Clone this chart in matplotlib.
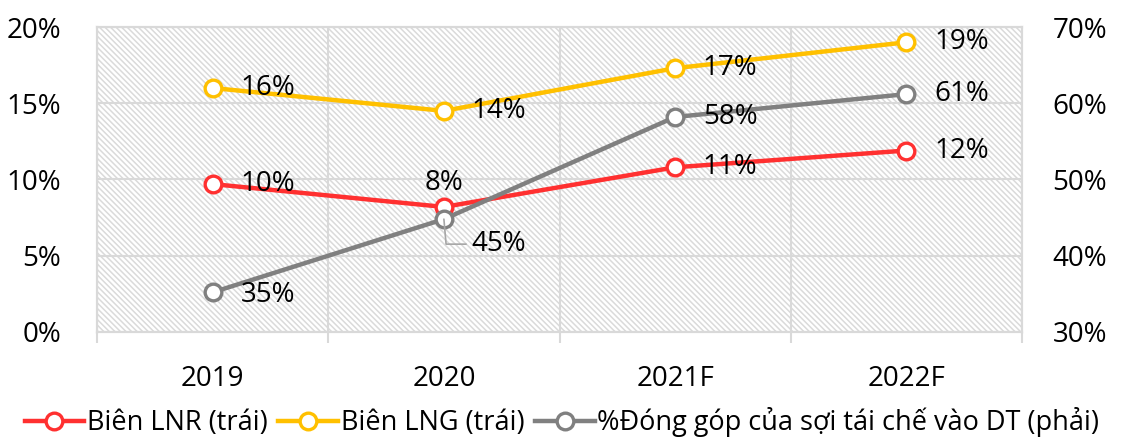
import matplotlib.pyplot as plt
from matplotlib.patches import Rectangle
from matplotlib.ticker import FixedLocator, PercentFormatter

plt.rcParams['font.family'] = ['Open Sans', 'DejaVu Sans']
plt.rcParams['hatch.linewidth'] = 1.1
plt.rcParams['hatch.color'] = '#dadada'

years = ['2019', '2020', '2021F', '2022F']
lnr = [9.7, 8.2, 10.8, 11.9]        # Biên LNR (trái)
lng = [16.0, 14.5, 17.3, 19.0]      # Biên LNG (trái)
recycled = [35.2, 44.8, 58.2, 61.2]  # % đóng góp (phải)

lnr_labels = ['10%', '8%', '11%', '12%']
lng_labels = ['16%', '14%', '17%', '19%']
rec_labels = ['35%', '45%', '58%', '61%']

c_red = '#ff3030'
c_yel = '#ffc000'
c_gray = '#808080'
grid_c = '#d9d9d9'

fig = plt.figure(figsize=(11.24, 4.4), dpi=100)
ax = fig.add_axes([0.0863, 0.2455, 0.823, 0.6931])
ax2 = ax.twinx()

x = range(len(years))
ax.set_xlim(-0.5, 3.5)
ax.set_ylim(0, 20)
ax2.set_ylim(30, 70)

# hatched background
ax.add_patch(Rectangle((0, 0), 1, 1, transform=ax.transAxes, facecolor='white',
                       edgecolor='#dadada', hatch='\\' * 6, lw=0, zorder=0))

ax.set_yticks([0, 5, 10, 15, 20])
ax.yaxis.set_major_formatter(PercentFormatter(decimals=0))
ax2.set_yticks([30, 40, 50, 60, 70])
ax2.yaxis.set_major_formatter(PercentFormatter(decimals=0))

ax.set_xticks(list(x))
ax.set_xticklabels(years)
ax.xaxis.set_minor_locator(FixedLocator([-0.5, 0.5, 1.5, 2.5, 3.5]))
ax.tick_params(axis='x', which='major', length=0, pad=24, labelsize=20)
ax.tick_params(axis='x', which='minor', length=8, width=1.5, color=grid_c)
ax.tick_params(axis='y', length=0, pad=26, labelsize=20)
ax2.tick_params(axis='y', length=0, pad=22, labelsize=20)

ax.grid(axis='y', color=grid_c, lw=1.5, zorder=1)
ax.grid(axis='x', which='minor', color=grid_c, lw=1.5, zorder=1)
ax.set_axisbelow(True)
for a in (ax, ax2):
    for s in a.spines.values():
        s.set_color(grid_c)
        s.set_linewidth(1.5)

mk = dict(marker='o', markersize=12, markerfacecolor='white', markeredgewidth=2.4, lw=3.2)
l1, = ax.plot(x, lnr, color=c_red, zorder=3, **mk)
l2, = ax.plot(x, lng, color=c_yel, zorder=3, **mk)
l3, = ax2.plot(x, recycled, color=c_gray, zorder=3, **mk)

fs = 20
for i, (v, t) in enumerate(zip(lng, lng_labels)):
    ax.annotate(t, (i, v), xytext=(20, 0), textcoords='offset points',
                ha='left', va='center', fontsize=fs)
for i, (v, t) in enumerate(zip(lnr, lnr_labels)):
    if i == 1:
        ax.annotate(t, (i, v), xytext=(0, 17), textcoords='offset points',
                    ha='center', va='center', fontsize=fs)
    else:
        ax.annotate(t, (i, v), xytext=(20, 0), textcoords='offset points',
                    ha='left', va='center', fontsize=fs)
for i, (v, t) in enumerate(zip(recycled, rec_labels)):
    if i == 1:
        ax2.annotate(t, (i, v), xytext=(20, -18), textcoords='offset points',
                     ha='left', va='center', fontsize=fs,
                     arrowprops=dict(arrowstyle='-', color='#a6a6a6', lw=1.2,
                                     shrinkA=2, shrinkB=0,
                                     connectionstyle='angle,angleA=0,angleB=95,rad=0'))
    else:
        dy = -2 if i == 0 else 0
        ax2.annotate(t, (i, v), xytext=(20, dy), textcoords='offset points',
                     ha='left', va='center', fontsize=fs)

fig.legend([l1, l2, l3],
           ['Biên LNR (trái)', 'Biên LNG (trái)', '%Đóng góp của sợi tái chế vào DT (phải)'],
           loc='lower center', bbox_to_anchor=(0.5, -0.018), ncol=3, frameon=False,
           fontsize=19.5, handlelength=2.2, handletextpad=0.1, columnspacing=0.4,
           borderaxespad=0)

fig.savefig('out.png', dpi=100)
